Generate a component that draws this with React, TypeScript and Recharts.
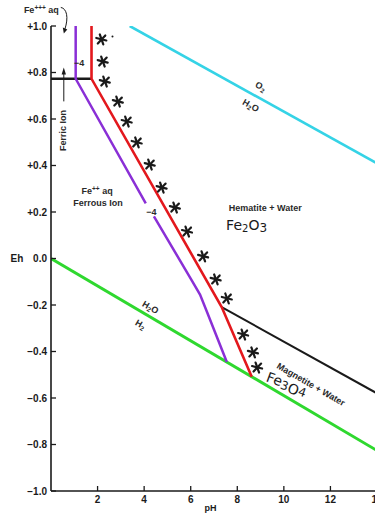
import React from "react";
import {
  ComposedChart,
  Line,
  Scatter,
  XAxis,
  YAxis,
  ReferenceDot,
} from "recharts";

// axes
const ehTicks = [1, 0.8, 0.6, 0.4, 0.2, 0, -0.2, -0.4, -0.6, -0.8, -1];
const ehTickLabels = ["+1.0", "+0.8", "+0.6", "+0.4", "+0.2", "0.0", "\u22120.2", "\u22120.4", "\u22120.6", "\u22120.8", "\u22121.0"];
const phTicks = [2, 4, 6, 8, 10, 12, 14];
const phTickLabels = ["2", "4", "6", "8", "10", "12", "14"];

// boundaries (pH, Eh)
const o2Water = [
  { ph: 3.38, eh: 1.0 },
  { ph: 14, eh: 0.409 },
];
const waterH2 = [
  { ph: 0, eh: 0 },
  { ph: 14, eh: -0.826 },
];
const ferricFerrous = [
  { ph: 0, eh: 0.773 },
  { ph: 1.74, eh: 0.773 },
];
const redBoundary = [
  { ph: 1.74, eh: 1.0 },
  { ph: 1.74, eh: 0.773 },
  { ph: 7.33, eh: -0.209 },
  { ph: 8.62, eh: -0.509 },
];
const hematiteMagnetite = [
  { ph: 7.33, eh: -0.209 },
  { ph: 14, eh: -0.58 },
];
const purpleUpper = [
  { ph: 1.06, eh: 1.0 },
  { ph: 1.06, eh: 0.773 },
  { ph: 4.07, eh: 0.237 },
];
const purpleLower = [
  { ph: 4.42, eh: 0.181 },
  { ph: 6.05, eh: -0.095 },
  { ph: 6.4, eh: -0.155 },
  { ph: 6.7, eh: -0.23 },
  { ph: 7.55, eh: -0.445 },
];

// hand drawn asterisks along the red line
const stars = [
  { ph: 2.16, eh: 0.942 },
  { ph: 2.22, eh: 0.847 },
  { ph: 2.31, eh: 0.761 },
  { ph: 2.87, eh: 0.675 },
  { ph: 3.25, eh: 0.589 },
  { ph: 3.68, eh: 0.499 },
  { ph: 4.24, eh: 0.404 },
  { ph: 4.75, eh: 0.305 },
  { ph: 5.32, eh: 0.219 },
  { ph: 5.84, eh: 0.116 },
  { ph: 6.53, eh: 0.009 },
  { ph: 7.07, eh: -0.09 },
  { ph: 7.55, eh: -0.172 },
  { ph: 8.25, eh: -0.327 },
  { ph: 8.67, eh: -0.404 },
  { ph: 8.85, eh: -0.469 },
];

const FONT = "'Liberation Sans', Arial, sans-serif";
const HAND = "'DejaVu Sans', sans-serif";
const INK = "#1a1a1a";

const Star = (p: any) => {
  const { cx, cy } = p;
  if (cx == null || cy == null) return null;
  return (
    <g stroke={INK} strokeWidth={2.2} strokeLinecap="round">
      <line x1={cx - 5} y1={cy - 1.5} x2={cx + 5} y2={cy + 1} />
      <line x1={cx - 1.5} y1={cy - 5} x2={cx + 2} y2={cy + 5} />
      <line x1={cx + 4} y1={cy - 4} x2={cx - 3.5} y2={cy + 4} />
    </g>
  );
};

const LeftTick = (p: any) => {
  const i = ehTicks.indexOf(p.payload.value);
  return (
    <g>
      <line x1={p.x} x2={p.x + 5} y1={p.y} y2={p.y} stroke={INK} strokeWidth={1.3} />
      <text x={p.x - 4} y={p.y + 3.5} textAnchor="end" fontFamily={FONT} fontSize={10} fontWeight="bold" fill={INK}>
        {ehTickLabels[i]}
      </text>
    </g>
  );
};

const RightTick = (p: any) => (
  <line x1={p.x} x2={p.x - 5} y1={p.y} y2={p.y} stroke={INK} strokeWidth={1.3} />
);

const BottomTick = (p: any) => {
  const i = phTicks.indexOf(p.payload.value);
  return (
    <g>
      <line x1={p.x} x2={p.x} y1={p.y} y2={p.y - 5} stroke={INK} strokeWidth={1.3} />
      <text x={p.x} y={p.y + 12} textAnchor="middle" fontFamily={FONT} fontSize={10} fontWeight="bold" fill={INK}>
        {phTickLabels[i]}
      </text>
    </g>
  );
};

const TopTick = (p: any) => (
  <line x1={p.x} x2={p.x} y1={p.y} y2={p.y + 6} stroke={INK} strokeWidth={1.3} />
);

// annotation anchored at a data point
const note = (key: string, ph: number, eh: number, draw: (x: number, y: number) => React.ReactNode) => (
  <ReferenceDot
    key={key}
    x={ph}
    y={eh}
    r={0}
    fill="none"
    stroke="none"
    ifOverflow="visible"
    label={(p: any) => <g>{draw(p.viewBox.x, p.viewBox.y)}</g>}
  />
);

const txt = { fontFamily: FONT, fontSize: 9, fill: "#2a2a2a", fontWeight: "bold" } as const;

export default function App() {
  return (
    <div
      style={{
        position: "absolute",
        left: 0,
        top: 0,
        width: 375,
        height: 514,
        overflow: "hidden",
        background: "#fff",
      }}
    >
      <ComposedChart width={390} height={514} margin={{ top: 26, right: 13, bottom: 0, left: 0 }}>
        <XAxis
          xAxisId={0}
          dataKey="ph"
          type="number"
          domain={[0, 14]}
          allowDataOverflow
          ticks={phTicks}
          height={23}
          tickSize={0}
          tickMargin={0}
          tickLine={false}
          axisLine={{ stroke: INK, strokeWidth: 1.6 }}
          tick={<BottomTick />}
        />
        <XAxis
          xAxisId="top"
          orientation="top"
          dataKey="ph"
          type="number"
          domain={[0, 14]}
          allowDataOverflow
          ticks={[2, 4, 6, 8, 10, 12]}
          height={0}
          tickSize={0}
          tickMargin={0}
          tickLine={false}
          axisLine={{ stroke: INK, strokeWidth: 1.6 }}
          tick={<TopTick />}
        />
        <YAxis
          yAxisId={0}
          type="number"
          domain={[-1, 1]}
          allowDataOverflow
          ticks={ehTicks}
          width={51}
          tickSize={0}
          tickMargin={0}
          tickLine={false}
          axisLine={{ stroke: INK, strokeWidth: 1.6 }}
          tick={<LeftTick />}
        />
        <YAxis
          yAxisId="right"
          orientation="right"
          type="number"
          domain={[-1, 1]}
          allowDataOverflow
          ticks={ehTicks}
          width={0}
          tickSize={0}
          tickMargin={0}
          tickLine={false}
          axisLine={{ stroke: INK, strokeWidth: 1.6 }}
          tick={<RightTick />}
        />

        <Line data={o2Water} dataKey="eh" stroke="#35d3e6" strokeWidth={2.6} dot={false} activeDot={false} isAnimationActive={false} />
        <Line data={waterH2} dataKey="eh" stroke="#2fd82f" strokeWidth={3} dot={false} activeDot={false} isAnimationActive={false} />
        <Line data={hematiteMagnetite} dataKey="eh" stroke={INK} strokeWidth={2} dot={false} activeDot={false} isAnimationActive={false} />
        <Line data={ferricFerrous} dataKey="eh" stroke={INK} strokeWidth={2.6} dot={false} activeDot={false} isAnimationActive={false} />
        <Line data={purpleUpper} dataKey="eh" stroke="#8a2fd6" strokeWidth={2.5} dot={false} activeDot={false} isAnimationActive={false} />
        <Line data={purpleLower} dataKey="eh" stroke="#8a2fd6" strokeWidth={2.5} dot={false} activeDot={false} isAnimationActive={false} />
        <Line data={redBoundary} dataKey="eh" stroke="#e3181d" strokeWidth={2.6} dot={false} activeDot={false} isAnimationActive={false} />
        <Scatter data={stars} dataKey="eh" shape={<Star />} isAnimationActive={false} />

        {note("dot", 2.64, 0.955, (x, y) => <circle cx={x} cy={y} r={1} fill={INK} />)}

        {note("fe3", 0.55, 0.968, (x, y) => (
          <g>
            <text x={x - 5} y={y - 20} textAnchor="end" {...txt}>
              Fe<tspan fontSize={6.5} dy={-3}>+++</tspan>
              <tspan dy={3}> aq</tspan>
            </text>
            <path d={`M${x - 3},${y - 26} C${x + 3},${y - 25} ${x + 5},${y - 16} ${x + 1},${y - 4}`} fill="none" stroke={INK} strokeWidth={1} />
            <path d={`M${x},${y} L${x - 1},${y - 6} L${x + 3.5},${y - 4} Z`} fill={INK} />
          </g>
        ))}

        {note("ferric", 0.55, 0.822, (x, y) => (
          <g>
            <line x1={x} x2={x} y1={y + 4} y2={y + 34} stroke={INK} strokeWidth={1} />
            <path d={`M${x},${y} L${x - 2.2},${y + 7} L${x + 2.2},${y + 7} Z`} fill={INK} />
            <text
              x={x - 1}
              y={y + 63}
              transform={`rotate(-90 ${x - 1} ${y + 63})`}
              textAnchor="middle"
              dominantBaseline="central"
              {...txt}
            >
              Ferric Ion
            </text>
          </g>
        ))}

        {note("m4a", 1.21, 0.843, (x, y) => (
          <text x={x} y={y + 3} textAnchor="middle" {...txt}>
            {"\u22124"}
          </text>
        ))}
        {note("m4b", 4.31, 0.2, (x, y) => (
          <text x={x} y={y + 3} textAnchor="middle" {...txt}>
            {"\u22124"}
          </text>
        ))}

        {note("ferrous", 1.98, 0.265, (x, y) => (
          <g>
            <text x={x} y={y - 3} textAnchor="middle" {...txt}>
              Fe<tspan fontSize={6.5} dy={-3}>++</tspan>
              <tspan dy={3}> aq</tspan>
            </text>
            <text x={x + 1} y={y + 9} textAnchor="middle" {...txt}>
              Ferrous Ion
            </text>
          </g>
        ))}

        {note("hem", 9.2, 0.219, (x, y) => (
          <text x={x} y={y + 3} textAnchor="middle" {...txt}>
            Hematite + Water
          </text>
        ))}
        {note("fe2o3", 8.4, 0.146, (x, y) => (
          <text x={x} y={y + 5} textAnchor="middle" fontFamily={HAND} fontSize={14} fill={INK}>
            Fe<tspan fontSize={10} dy={2}>2</tspan>
            <tspan dy={-2}>O</tspan>
            <tspan fontSize={12} dy={2}>3</tspan>
          </text>
        ))}

        {note("o2", 9.0, 0.74, (x, y) => (
          <text x={x} y={y} transform={`rotate(29 ${x} ${y})`} textAnchor="middle" dominantBaseline="central" {...txt}>
            O<tspan fontSize={6.5} dy={2}>2</tspan>
          </text>
        ))}
        {note("h2o_top", 8.58, 0.658, (x, y) => (
          <text x={x} y={y} transform={`rotate(29 ${x} ${y})`} textAnchor="middle" dominantBaseline="central" {...txt}>
            H<tspan fontSize={6.5} dy={2}>2</tspan>
            <tspan dy={-2}>O</tspan>
          </text>
        ))}

        {note("h2o_low", 4.27, -0.21, (x, y) => (
          <text x={x} y={y} transform={`rotate(30 ${x} ${y})`} textAnchor="middle" dominantBaseline="central" {...txt}>
            H<tspan fontSize={6.5} dy={2}>2</tspan>
            <tspan dy={-2}>O</tspan>
          </text>
        ))}
        {note("h2", 3.84, -0.284, (x, y) => (
          <text x={x} y={y} transform={`rotate(30 ${x} ${y})`} textAnchor="middle" dominantBaseline="central" {...txt}>
            H<tspan fontSize={6.5} dy={2}>2</tspan>
          </text>
        ))}

        {note("mag", 11.16, -0.542, (x, y) => (
          <text x={x} y={y} transform={`rotate(30 ${x} ${y})`} textAnchor="middle" dominantBaseline="central" {...txt}>
            Magnetite + Water
          </text>
        ))}
        {note("fe3o4", 10.13, -0.538, (x, y) => (
          <text x={x} y={y} transform={`rotate(20 ${x} ${y})`} textAnchor="middle" dominantBaseline="central" fontFamily={HAND} fontSize={14} fill={INK}>
            Fe<tspan fontSize={12} dy={3}>3</tspan>
            <tspan dy={0}>O</tspan>
            <tspan fontSize={12} dy={0}>4</tspan>
          </text>
        ))}

        {note("eh", 0, 0, (x, y) => (
          <text x={x - 34} y={y + 3.5} textAnchor="middle" fontFamily={FONT} fontSize={10} fontWeight="bold" fill={INK}>
            Eh
          </text>
        ))}
        {note("ph", 6.85, -1, (x, y) => (
          <text x={x} y={y + 20} textAnchor="middle" fontFamily={FONT} fontSize={9} fontWeight="bold" fill={INK}>
            pH
          </text>
        ))}
      </ComposedChart>
    </div>
  );
}
